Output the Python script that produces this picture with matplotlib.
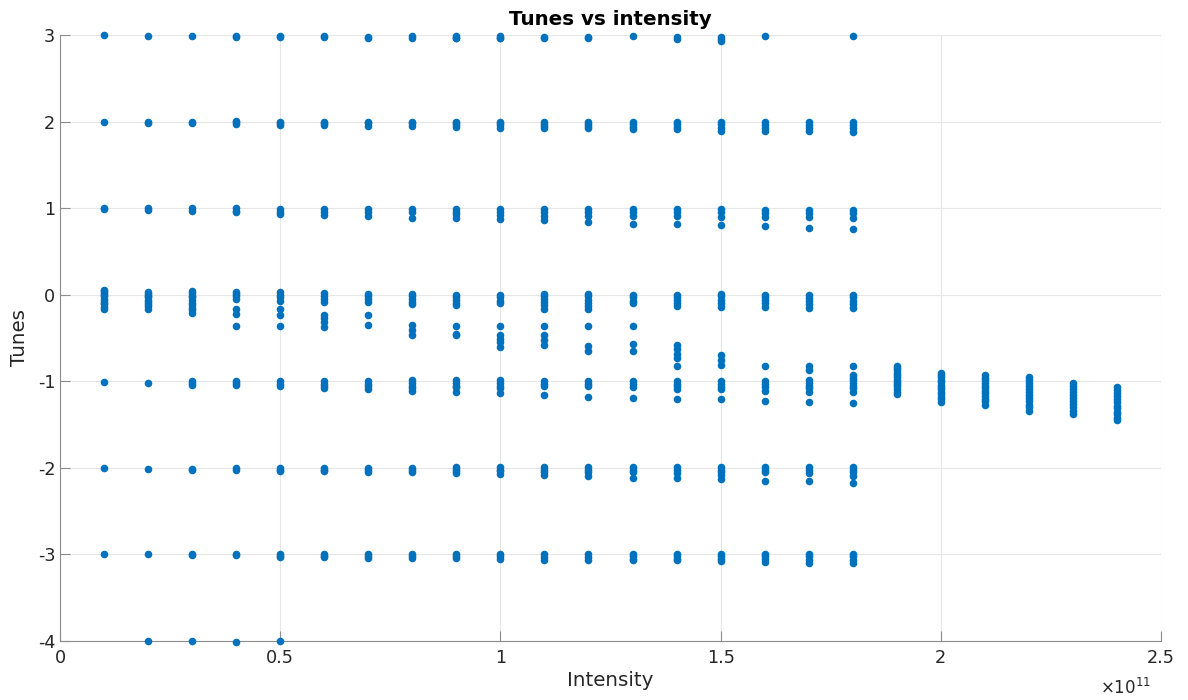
import matplotlib
matplotlib.use("Agg")
import matplotlib.pyplot as plt
from matplotlib.ticker import FuncFormatter, FixedLocator

plt.rcParams["font.family"] = ["DejaVu Sans"]
plt.rcParams["axes.unicode_minus"] = False

# Beam intensity steps (units of 1e11 particles)
intensity_steps = [0.1, 0.2, 0.3, 0.4, 0.5, 0.6, 0.7, 0.8, 0.9,
                   1.0, 1.1, 1.2, 1.3, 1.4, 1.5, 1.6, 1.7, 1.8]
high_steps = [1.9, 2.0, 2.1, 2.2, 2.3, 2.4]

# Mode tunes per azimuthal family, one list per intensity step
tunes_p3 = [
    [2.995], [2.99], [2.99], [2.99, 2.98], [2.99, 2.975], [2.99, 2.975],
    [2.98, 2.97], [2.99, 2.97], [2.99, 2.97, 2.96], [2.99, 2.97, 2.96],
    [2.98, 2.96], [2.98, 2.96], [2.985], [2.98, 2.95], [2.98, 2.95, 2.93],
    [2.985], [], [2.985],
]
tunes_p2 = [
    [2.0], [2.0, 1.985], [2.0, 1.985], [2.01, 1.99, 1.97], [2.0, 1.98, 1.96],
    [2.0, 1.98, 1.96], [2.0, 1.98, 1.95], [2.0, 1.98, 1.95],
    [2.0, 1.98, 1.96, 1.94], [2.0, 1.98, 1.96, 1.93], [2.0, 1.97, 1.95, 1.92],
    [2.0, 1.97, 1.95, 1.92], [2.0, 1.97, 1.94, 1.91], [2.0, 1.97, 1.94, 1.91],
    [2.0, 1.97, 1.93, 1.89], [1.99, 1.96, 1.92, 1.89], [1.99, 1.96, 1.92, 1.89],
    [1.99, 1.96, 1.92, 1.88],
]
tunes_p1 = [
    [1.0, 0.99], [1.0, 0.98], [1.0, 0.97], [1.0, 0.97, 0.95],
    [0.99, 0.96, 0.93], [0.99, 0.95, 0.92], [0.99, 0.96, 0.91],
    [0.99, 0.95, 0.89], [0.99, 0.95, 0.93, 0.89], [0.99, 0.95, 0.92, 0.87],
    [0.99, 0.95, 0.91, 0.86], [0.99, 0.95, 0.91, 0.84], [0.99, 0.95, 0.91, 0.82],
    [0.99, 0.95, 0.91, 0.82], [0.99, 0.95, 0.90, 0.80], [0.98, 0.94, 0.90, 0.79],
    [0.98, 0.94, 0.90, 0.77], [0.98, 0.94, 0.89, 0.76],
]
tunes_0 = [
    [0.06, 0.04, 0.02, 0.0, -0.02, -0.05, -0.07, -0.09, -0.11, -0.14, -0.16],
    [0.035, 0.01, -0.01, -0.03, -0.06, -0.08, -0.11, -0.13, -0.165],
    [0.04, 0.02, -0.01, -0.03, -0.06, -0.09, -0.12, -0.15, -0.18, -0.21],
    [0.035, 0.01, -0.02, -0.05, -0.16, -0.22, -0.36],
    [0.03, 0.0, -0.03, -0.07, -0.17, -0.24, -0.36],
    [0.02, -0.01, -0.05, -0.08, -0.23, -0.27, -0.32, -0.37],
    [0.01, -0.02, -0.05, -0.08, -0.24, -0.35],
    [0.01, -0.02, -0.05, -0.08, -0.11, -0.35, -0.41, -0.47],
    [0.0, -0.03, -0.06, -0.09, -0.12, -0.36, -0.45, -0.47],
    [0.0, -0.03, -0.07, -0.10, -0.36, -0.47, -0.51, -0.55, -0.60],
    [0.01, -0.02, -0.05, -0.08, -0.12, -0.16, -0.36, -0.47, -0.52, -0.58],
    [0.01, -0.02, -0.06, -0.10, -0.13, -0.17, -0.36, -0.59, -0.65],
    [0.0, -0.03, -0.07, -0.10, -0.36, -0.57, -0.65],
    [0.0, -0.03, -0.06, -0.10, -0.13, -0.58, -0.63, -0.68, -0.73, -0.82],
    [0.01, -0.02, -0.06, -0.10, -0.14, -0.70, -0.75, -0.81],
    [0.0, -0.03, -0.06, -0.10, -0.14, -0.82],
    [0.0, -0.04, -0.07, -0.11, -0.15, -0.82, -0.87],
    [0.0, -0.03, -0.07, -0.11, -0.15, -0.82],
]
tunes_m1 = [
    [-1.01], [-1.02], [-1.0, -1.02, -1.04], [-1.0, -1.02, -1.04],
    [-1.0, -1.03, -1.06], [-1.0, -1.03, -1.06, -1.08],
    [-1.0, -1.03, -1.06, -1.09], [-0.99, -1.02, -1.05, -1.08, -1.11],
    [-0.99, -1.02, -1.05, -1.07, -1.12], [-0.99, -1.02, -1.05, -1.08, -1.14],
    [-1.0, -1.03, -1.06, -1.16], [-1.0, -1.03, -1.06, -1.18],
    [-1.0, -1.03, -1.07, -1.19], [-1.0, -1.03, -1.06, -1.09, -1.20],
    [-1.0, -1.03, -1.07, -1.09, -1.21], [-1.0, -1.03, -1.07, -1.11, -1.23],
    [-0.99, -1.02, -1.05, -1.08, -1.12, -1.24],
    [-0.93, -0.96, -0.99, -1.02, -1.05, -1.08, -1.12, -1.25],
]
tunes_m2 = [
    [-2.0], [-2.01], [-2.01, -2.02], [-2.0, -2.02], [-2.0, -2.02, -2.04],
    [-2.0, -2.02, -2.04], [-2.0, -2.03, -2.05], [-2.0, -2.02, -2.05],
    [-1.99, -2.01, -2.04, -2.06], [-1.99, -2.02, -2.04, -2.07],
    [-1.99, -2.02, -2.05, -2.08], [-1.99, -2.02, -2.05, -2.09],
    [-1.99, -2.02, -2.05, -2.12], [-1.99, -2.02, -2.06, -2.12],
    [-1.99, -2.02, -2.05, -2.08, -2.13], [-1.99, -2.02, -2.05, -2.15],
    [-1.99, -2.02, -2.06, -2.15], [-1.99, -2.02, -2.05, -2.09, -2.18],
]
tunes_m3 = [
    [-3.0], [-3.0], [-3.0, -3.01], [-3.0, -3.01], [-3.0, -3.02, -3.03],
    [-3.0, -3.02, -3.03], [-3.0, -3.02, -3.04], [-3.0, -3.02, -3.04],
    [-3.0, -3.02, -3.04], [-2.99, -3.02, -3.05], [-3.0, -3.03, -3.06],
    [-3.0, -3.03, -3.06], [-2.99, -3.02, -3.05, -3.07],
    [-2.99, -3.02, -3.05, -3.07], [-2.99, -3.02, -3.05, -3.08],
    [-2.99, -3.02, -3.05, -3.09], [-2.99, -3.02, -3.06, -3.10],
    [-2.99, -3.02, -3.06, -3.10],
]
tunes_m4 = [[], [-4.0], [-4.0], [-4.01], [-4.0], [], [], [], [],
            [], [], [], [], [], [], [], [], []]

# Merged mode band above 1.8e11
tunes_high = [
    [-0.82, -0.85, -0.87, -0.90, -0.93, -0.95, -0.98, -1.01, -1.03, -1.06, -1.09, -1.12, -1.15],
    [-0.90, -0.93, -0.95, -0.98, -1.01, -1.04, -1.07, -1.09, -1.12, -1.15, -1.18, -1.21, -1.24],
    [-0.93, -0.96, -0.99, -1.02, -1.05, -1.08, -1.11, -1.14, -1.17, -1.20, -1.23, -1.27],
    [-0.95, -0.98, -1.02, -1.05, -1.09, -1.12, -1.16, -1.19, -1.23, -1.27, -1.30, -1.34],
    [-1.02, -1.05, -1.09, -1.12, -1.16, -1.19, -1.23, -1.26, -1.30, -1.34, -1.38],
    [-1.07, -1.10, -1.14, -1.17, -1.21, -1.24, -1.28, -1.31, -1.35, -1.38, -1.42, -1.45],
]

SCALE = 1e11
xs, ys = [], []
for fam in (tunes_p3, tunes_p2, tunes_p1, tunes_0, tunes_m1, tunes_m2, tunes_m3, tunes_m4):
    for step, vals in zip(intensity_steps, fam):
        xs.extend([step * SCALE] * len(vals))
        ys.extend(vals)
for step, vals in zip(high_steps, tunes_high):
    xs.extend([step * SCALE] * len(vals))
    ys.extend(vals)

fig = plt.figure(figsize=(11.88, 7.0), dpi=100)
ax = fig.add_axes([60 / 1188, 59 / 700, 1101 / 1188, 606 / 700])

ax.scatter(xs, ys, s=30, color="#0072BD", linewidths=0, zorder=3, clip_on=False)

ax.set_xlim(0, 2.5e11)
ax.set_ylim(-4, 3)
ax.xaxis.set_major_locator(FixedLocator([0, 0.5e11, 1e11, 1.5e11, 2e11, 2.5e11]))
ax.yaxis.set_major_locator(FixedLocator([-4, -3, -2, -1, 0, 1, 2, 3]))
ax.xaxis.set_major_formatter(FuncFormatter(lambda v, p: "%g" % (v / SCALE)))
ax.yaxis.set_major_formatter(FuncFormatter(lambda v, p: "%g" % v))

dark = "#262626"
ax.grid(True, color="#e6e6e6", linewidth=0.8, zorder=0)
ax.set_axisbelow(True)
for side in ("top", "right"):
    ax.spines[side].set_visible(False)
for side in ("left", "bottom"):
    ax.spines[side].set_color("#8c8c8c")
    ax.spines[side].set_linewidth(0.8)
ax.tick_params(direction="in", length=7, width=0.8, color="#8c8c8c",
               labelcolor=dark, labelsize=12.7)
ax.tick_params(axis="x", pad=6)

ax.set_xlabel("Intensity", fontsize=14.3, color=dark, labelpad=3)
ax.set_ylabel("Tunes", fontsize=14.3, color=dark, labelpad=6)
ax.set_title("Tunes vs intensity", fontsize=14.3, fontweight="bold", color="black", pad=7)

fig.text(1151 / 1188, 1 - 688 / 700, r"$\times10^{11}$",
         ha="right", va="center", fontsize=12, color=dark)

fig.savefig("out.png", dpi=100, facecolor="white")
